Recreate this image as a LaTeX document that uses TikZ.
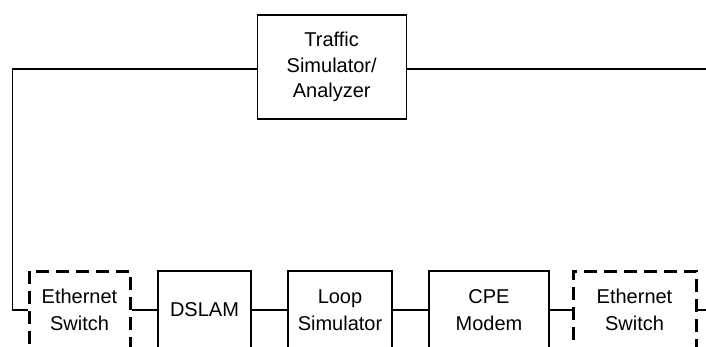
\documentclass[tikz,border=0pt]{standalone}
\usepackage{fontspec}
\setmainfont{Liberation Sans}
\begin{document}
\begin{tikzpicture}[x=1pt,y=-1pt,
  box/.style={draw, line width=1.3pt, rectangle, inner sep=0pt, align=center,
    font=\fontsize{20}{27.5}\selectfont},
  dbox/.style={box, line width=3pt, dash pattern=on 13pt off 7pt},
  wire/.style={line width=1.3pt}]
\useasboundingbox (0,0) rectangle (706,346);
\clip (0,0) rectangle (706,346);
\node[box, minimum width=149pt, minimum height=104pt, font=\fontsize{20}{25.5}\selectfont] (ts) at (331.7,67) {Traffic\\Simulator/\\Analyzer};
\node[dbox, minimum width=101pt, minimum height=78pt] (es1) at (79.5,310) {Ethernet\\Switch};
\node[box, minimum width=93pt, minimum height=78pt] (dslam) at (204.5,310) {DSLAM};
\node[box, minimum width=104pt, minimum height=78pt] (loop) at (340,310) {Loop\\Simulator};
\node[box, minimum width=120pt, minimum height=78pt] (cpe) at (489,310) {CPE\\Modem};
\node[dbox, minimum width=123pt, minimum height=78pt] (es2) at (634.5,310) {Ethernet\\Switch};
\coordinate (lt) at (12.3,69);
\coordinate (rt) at (706,69);
\coordinate (rb) at (706,310);
\draw[wire] (ts.west |- lt) -- (lt) |- (es1.west);
\draw[wire] (ts.east |- rt) -- (rt);
\draw[wire] (es1.east) -- (dslam.west);
\draw[wire] (dslam.east) -- (loop.west);
\draw[wire] (loop.east) -- (cpe.west);
\draw[wire] (cpe.east) -- (es2.west);
\draw[wire] (es2.east) -- (rb);
\end{tikzpicture}
\end{document}
